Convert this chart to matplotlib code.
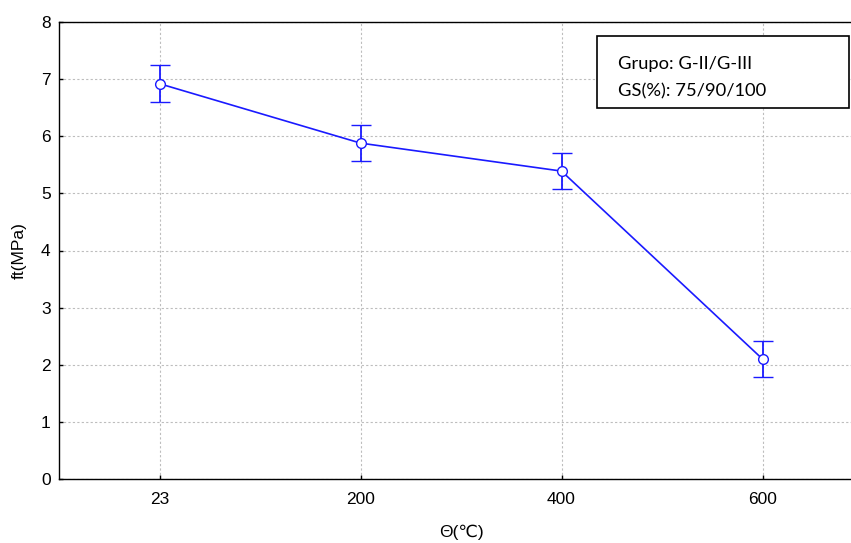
import matplotlib
matplotlib.use("Agg")
import matplotlib.pyplot as plt
from matplotlib.patches import Rectangle

temperatures = ["23", "200", "400", "600"]
ft_mean = [6.92, 5.88, 5.39, 2.10]
ft_err = [0.32, 0.32, 0.32, 0.32]
y_ticks = [0, 1, 2, 3, 4, 5, 6, 7, 8]

plt.rcParams["font.family"] = ["Liberation Sans", "DejaVu Sans"]

W, H = 851, 543
fig = plt.figure(figsize=(W / 100, H / 100), dpi=100)
# the frame runs a little past the right edge of the canvas
ax = fig.add_axes([59 / W, 1 - 479 / H, (863 - 59) / W, (479 - 22) / H])

x = list(range(len(temperatures)))
blue = "#1a1aff"
ax.errorbar(x, ft_mean, yerr=ft_err, color=blue, lw=1.2,
            marker="o", markersize=7, markerfacecolor="white",
            markeredgecolor=blue, markeredgewidth=1.0,
            capsize=7.5, capthick=1.3, elinewidth=1.3, zorder=3)

ax.set_xlim(-0.5, 3.5)
ax.set_ylim(0, 8)
ax.set_xticks(x)
ax.set_xticklabels(temperatures)
ax.set_yticks(y_ticks)
ax.tick_params(axis="both", direction="in", length=3, width=1,
               labelsize=12.5)
ax.tick_params(axis="y", pad=6)
ax.tick_params(axis="x", pad=9)

ax.grid(True, color="#bdbdbd", linestyle=(0, (2, 2)), lw=0.8)
ax.set_axisbelow(True)
for side in ("top", "right", "left", "bottom"):
    ax.spines[side].set_linewidth(1.0)
    ax.spines[side].set_color("black")

ax.set_xlabel("Θ(℃)", fontsize=12.5, labelpad=13)
ax.set_ylabel("ft(MPa)", fontsize=12.5, labelpad=10)

# annotation box with group information
fig.patches.append(Rectangle((597 / W, 1 - 108 / H), (849 - 597) / W, 72 / H,
                             transform=fig.transFigure, facecolor="white",
                             edgecolor="black", lw=1.2, zorder=5))
fig.text(618 / W, 1 - 69 / H, "Grupo: G-II/G-III", ha="left", va="baseline",
         fontsize=13.2, family=["Lato", "DejaVu Sans"], zorder=6)
fig.text(618 / W, 1 - 96 / H, "GS(%): 75/90/100", ha="left", va="baseline",
         fontsize=13.2, family=["Lato", "DejaVu Sans"], zorder=6)

fig.savefig("out.png", dpi=100)
